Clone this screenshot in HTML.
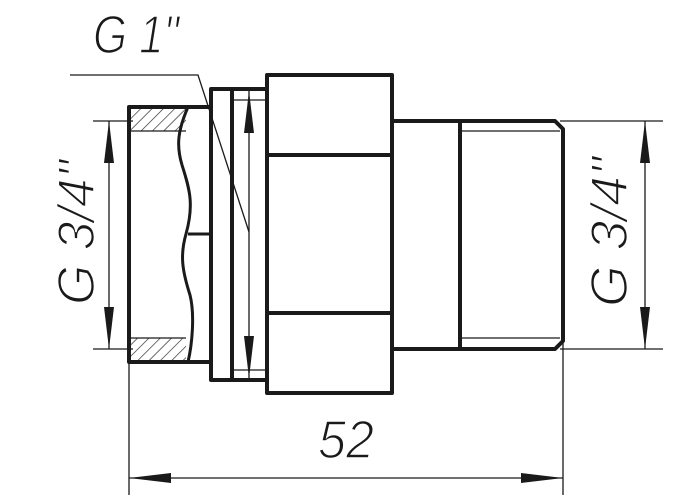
<!DOCTYPE html>
<html><head><style>body{margin:0;background:#fff}svg{display:block}</style></head>
<body>
<svg width="700" height="500" viewBox="0 0 700 500" xmlns="http://www.w3.org/2000/svg">
<defs>
<pattern id="h" width="8" height="8" patternUnits="userSpaceOnUse" patternTransform="rotate(45)">
<line x1="0" y1="0" x2="0" y2="8" stroke="#222" stroke-width="1.3"/>
</pattern>
</defs>
<g fill="none" stroke="#1a1a1a" stroke-width="4" stroke-linejoin="round">
<rect x="130" y="109" width="56" height="22" fill="url(#h)" stroke="none"/>
<rect x="130" y="338" width="56" height="22" fill="url(#h)" stroke="none"/>
<path d="M210 107 H129 V362 H210"/>
<path d="M188 107 C178 130 176 145 182 165 C190 190 194 205 186 234 C180 255 182 270 190 295 C195 315 192 345 188 362" stroke-width="3"/>
<line x1="188" y1="234" x2="210" y2="234" stroke-width="3"/>
<rect x="211" y="89" width="56" height="291"/>
<line x1="232" y1="89" x2="232" y2="380"/>
<rect x="267" y="75" width="125" height="318"/>
<line x1="267" y1="155" x2="392" y2="155"/>
<line x1="267" y1="313" x2="392" y2="313"/>
<path d="M392 121 H555 L563 129 V341 L555 349 H392"/>
<line x1="460" y1="121" x2="460" y2="349"/>
</g>
<g stroke="#1a1a1a" stroke-width="1.3" fill="none">
<line x1="130" y1="131" x2="186" y2="131"/>
<line x1="130" y1="338" x2="186" y2="338"/>
<line x1="232" y1="100" x2="267" y2="100"/>
<line x1="232" y1="370" x2="267" y2="370"/>
<line x1="460" y1="131" x2="560" y2="131"/>
<line x1="460" y1="338" x2="560" y2="338"/>
<line x1="93" y1="121" x2="133" y2="121"/>
<line x1="93" y1="349" x2="133" y2="349"/>
<line x1="109" y1="121" x2="109" y2="349"/>
<line x1="249" y1="91" x2="249" y2="378"/>
<line x1="560" y1="121" x2="663" y2="121"/>
<line x1="560" y1="349" x2="663" y2="349"/>
<line x1="645" y1="121" x2="645" y2="349"/>
<line x1="129" y1="362" x2="129" y2="495"/>
<line x1="563" y1="341" x2="563" y2="495"/>
<line x1="129" y1="478" x2="563" y2="478"/>
<polyline points="70,75 198,75 249,232"/>
</g>
<g fill="#1a1a1a">
<path d="M109 121 L104 163 L114 163Z"/><path d="M109 349 L104 307 L114 307Z"/>
<path d="M249 91 L244 133 L254 133Z"/><path d="M249 378 L244 336 L254 336Z"/>
<path d="M645 121 L640 163 L650 163Z"/><path d="M645 349 L640 307 L650 307Z"/>
<path d="M129 478 L171 473 L171 483Z"/><path d="M563 478 L521 473 L521 483Z"/>
</g>
<g font-family="Liberation Sans, sans-serif" font-style="italic" fill="#1a1a1a" stroke="#fff" stroke-width="1.6" paint-order="normal">
<text x="93" y="53" font-size="54" textLength="86" lengthAdjust="spacingAndGlyphs">G 1"</text>
<text x="318" y="458" font-size="54" textLength="56" lengthAdjust="spacingAndGlyphs">52</text>
<text transform="translate(94,305) rotate(-90)" font-size="52" textLength="145" lengthAdjust="spacingAndGlyphs">G 3/4"</text>
<text transform="translate(627,307) rotate(-90)" font-size="52" textLength="150" lengthAdjust="spacingAndGlyphs">G 3/4"</text>
</g>
</svg>
</body></html>
